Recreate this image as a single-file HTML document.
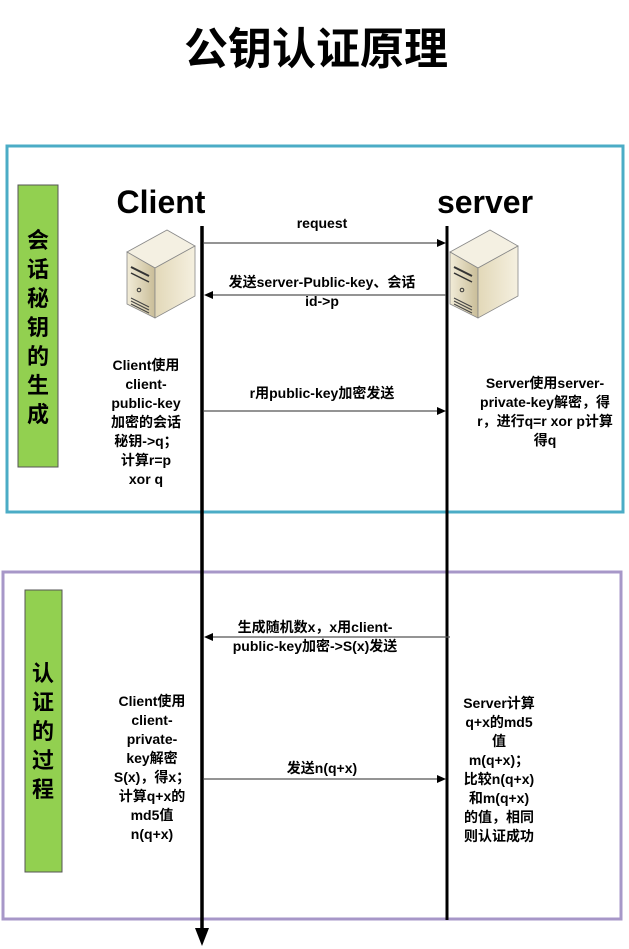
<!DOCTYPE html>
<html><head><meta charset="utf-8"><style>
body{margin:0;background:#fff}
svg{display:block}
text{font-family:"Liberation Sans","Noto Sans CJK SC",sans-serif;font-weight:bold;fill:#000}
</style></head><body>
<svg width="629" height="949" viewBox="0 0 629 949" xmlns="http://www.w3.org/2000/svg">
<defs>
<linearGradient id="sf" x1="0" x2="1"><stop offset="0" stop-color="#f2ecd8"/><stop offset="1" stop-color="#c9bd98"/></linearGradient>
<linearGradient id="ss" x1="0" x2="1"><stop offset="0" stop-color="#e2d8b8"/><stop offset="1" stop-color="#f5f0e0"/></linearGradient>
<g id="srv">
<polygon points="0,30 40,8 68,24 28,46" fill="#f4f0e2" stroke="#888" stroke-width="0.8"/>
<polygon points="0,30 28,46 28,96 0,82" fill="url(#sf)" stroke="#888" stroke-width="0.8"/>
<polygon points="28,46 68,24 68,74 28,96" fill="url(#ss)" stroke="#888" stroke-width="0.8"/>
<line x1="4" y1="45" x2="22" y2="54" stroke="#333" stroke-width="2"/>
<line x1="4" y1="51" x2="22" y2="60" stroke="#333" stroke-width="1.5"/>
<circle cx="12" cy="68" r="1.8" fill="none" stroke="#333"/>
<line x1="4" y1="76" x2="22" y2="85" stroke="#444"/>
<line x1="4" y1="79" x2="22" y2="88" stroke="#444"/>
<line x1="4" y1="82" x2="22" y2="91" stroke="#444"/>
</g>
</defs>
<text x="316" y="64" font-size="44" text-anchor="middle">公钥认证原理</text>

<rect x="7" y="146" width="616" height="366" fill="none" stroke="#4bacc6" stroke-width="3"/>
<rect x="18" y="185" width="40" height="282" fill="#92d050" stroke="#555" stroke-width="1"/>
<g font-size="22" text-anchor="middle">
<text x="38" y="248">会</text><text x="38" y="277">话</text><text x="38" y="306">秘</text><text x="38" y="335">钥</text><text x="38" y="364">的</text><text x="38" y="393">生</text><text x="38" y="422">成</text>
</g>

<rect x="3" y="572" width="618" height="347" fill="none" stroke="#a797c8" stroke-width="3"/>
<rect x="25" y="590" width="37" height="282" fill="#92d050" stroke="#555" stroke-width="1"/>
<g font-size="22" text-anchor="middle">
<text x="43" y="681">认</text><text x="43" y="710">证</text><text x="43" y="739">的</text><text x="43" y="768">过</text><text x="43" y="797">程</text>
</g>

<text x="161" y="213" font-size="32" text-anchor="middle">Client</text>
<text x="485" y="213" font-size="32" text-anchor="middle">server</text>

<use href="#srv" x="127" y="222"/>
<use href="#srv" x="450" y="222"/>

<line x1="202" y1="226" x2="202" y2="932" stroke="#000" stroke-width="3.5"/>
<polygon points="195,928 209,928 202,946" fill="#000"/>
<line x1="447" y1="226" x2="447" y2="920" stroke="#000" stroke-width="3"/>

<g stroke="#555" stroke-width="1.2">
<line x1="204" y1="243" x2="440" y2="243"/>
<line x1="210" y1="295" x2="446" y2="295"/>
<line x1="204" y1="411" x2="440" y2="411"/>
<line x1="210" y1="637" x2="450" y2="637"/>
<line x1="204" y1="779" x2="440" y2="779"/>
</g>
<g fill="#000">
<polygon points="446,243 437,239 437,247"/>
<polygon points="204,295 213,291 213,299"/>
<polygon points="446,411 437,407 437,415"/>
<polygon points="204,637 213,633 213,641"/>
<polygon points="446,779 437,775 437,783"/>
</g>

<g font-size="14" text-anchor="middle">
<text x="322" y="228">request</text>
<text x="322" y="287">发送server-Public-key、会话</text>
<text x="322" y="306">id-&gt;p</text>
<text x="322" y="398">r用public-key加密发送</text>
<text x="146" y="370">Client使用</text>
<text x="146" y="389">client-</text>
<text x="146" y="408">public-key</text>
<text x="146" y="427">加密的会话</text>
<text x="146" y="446">秘钥-&gt;q；</text>
<text x="146" y="465">计算r=p</text>
<text x="146" y="484">xor q</text>
<text x="545" y="388">Server使用server-</text>
<text x="545" y="407">private-key解密，得</text>
<text x="545" y="426">r，进行q=r xor p计算</text>
<text x="545" y="445">得q</text>

<text x="315" y="632">生成随机数x，x用client-</text>
<text x="315" y="651">public-key加密-&gt;S(x)发送</text>
<text x="322" y="773">发送n(q+x)</text>
<text x="152" y="706">Client使用</text>
<text x="152" y="725">client-</text>
<text x="152" y="744">private-</text>
<text x="152" y="763">key解密</text>
<text x="152" y="782">S(x)，得x；</text>
<text x="152" y="801">计算q+x的</text>
<text x="152" y="820">md5值</text>
<text x="152" y="839">n(q+x)</text>
<text x="499" y="708">Server计算</text>
<text x="499" y="727">q+x的md5</text>
<text x="499" y="746">值</text>
<text x="499" y="765">m(q+x)；</text>
<text x="499" y="784">比较n(q+x)</text>
<text x="499" y="803">和m(q+x)</text>
<text x="499" y="822">的值，相同</text>
<text x="499" y="841">则认证成功</text>
</g>
</svg>
</body></html>
